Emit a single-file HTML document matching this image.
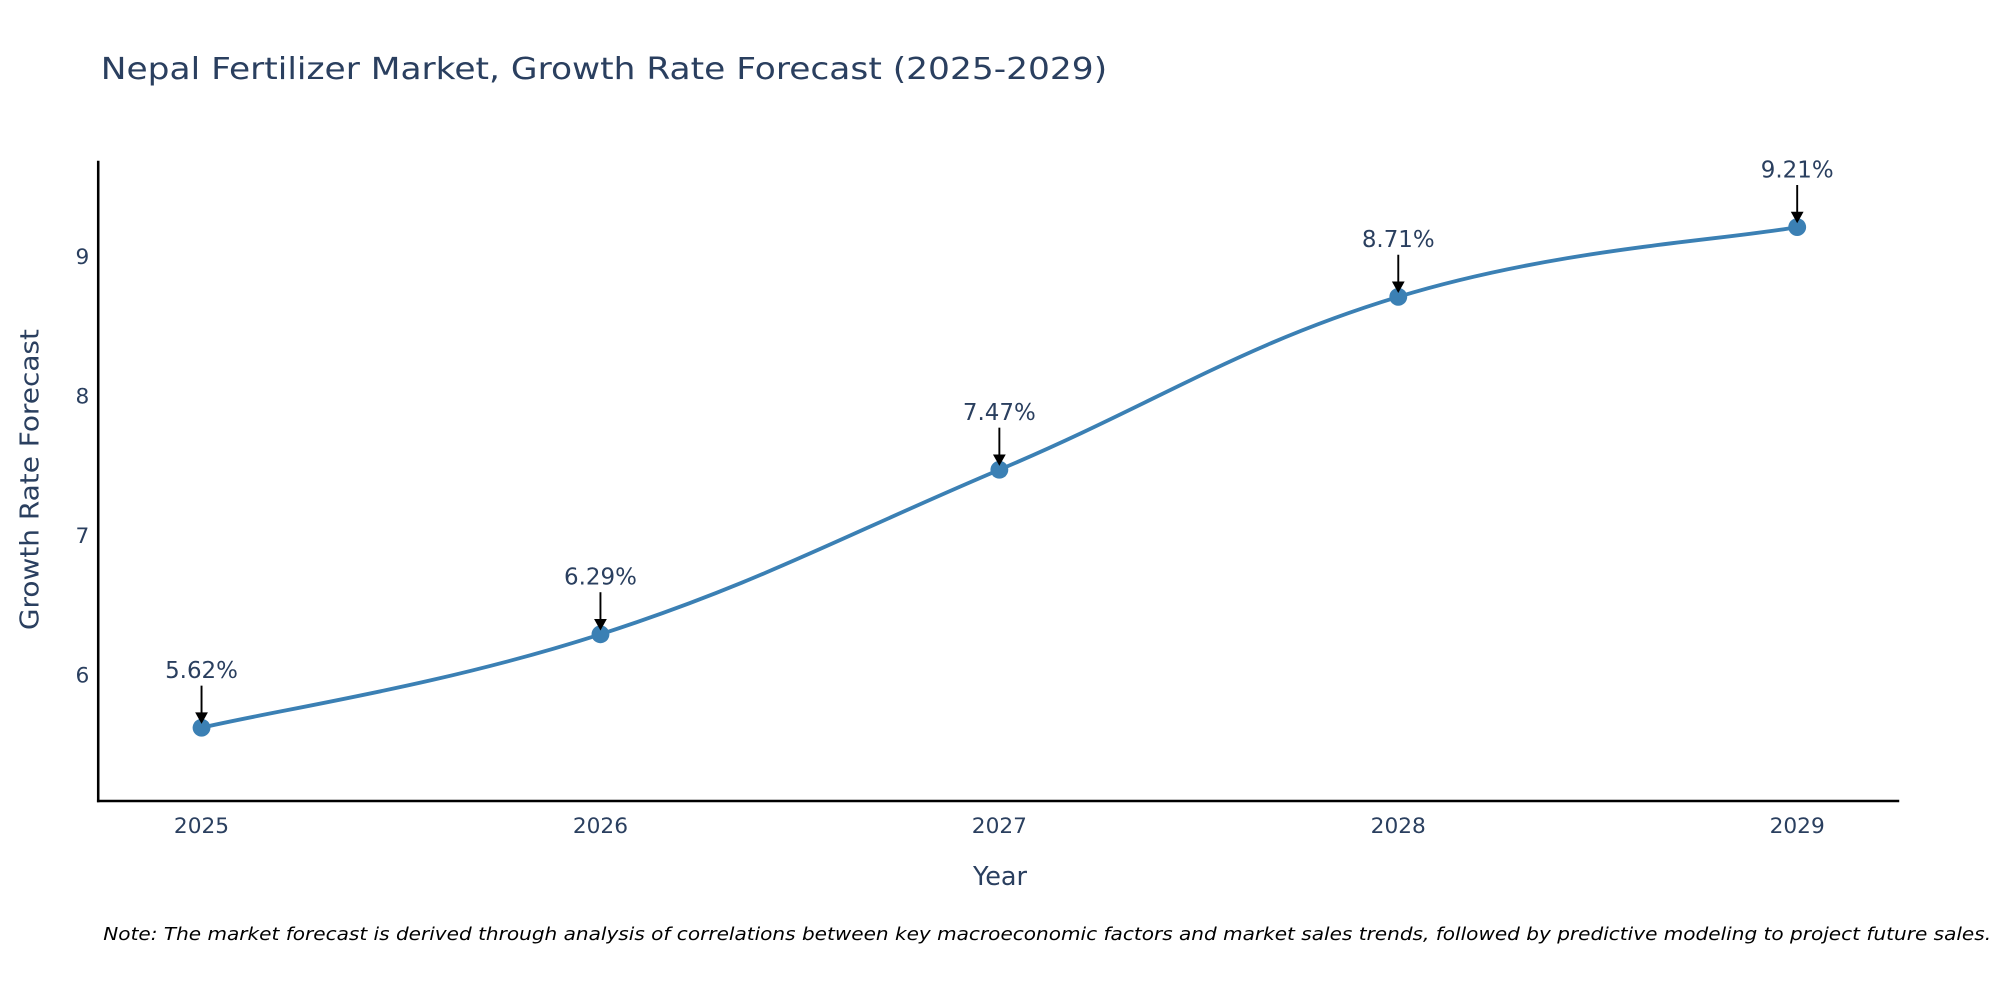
<!DOCTYPE html>
<html><head><meta charset="utf-8"><style>
html,body{margin:0;padding:0;background:#fff;}
svg{display:block;font-family:"DejaVu Sans","Liberation Sans",sans-serif;}
</style></head><body>
<svg id="chart" width="2000" height="1000" viewBox="0 0 1568 784" xmlns="http://www.w3.org/2000/svg">
<rect width="1568" height="784" fill="#fff"/>
<text x="79" y="62" font-size="24" fill="#2a3f5f" textLength="789" lengthAdjust="spacingAndGlyphs">Nepal Fertilizer Market, Growth Rate Forecast (2025-2029)</text>
<line x1="77" y1="126" x2="77" y2="629" stroke="#000" stroke-width="2"/>
<line x1="76" y1="628" x2="1489" y2="628" stroke="#000" stroke-width="2"/>
<g id="yticks"></g><g id="xticks"></g>
<text x="784" y="694" font-size="20" fill="#2a3f5f" text-anchor="middle">Year</text>
<text transform="translate(30,376) rotate(-90)" font-size="20" fill="#2a3f5f" text-anchor="middle" textLength="236" lengthAdjust="spacingAndGlyphs">Growth Rate Forecast</text>
<path id="line" fill="none" stroke="#3b80b4" stroke-width="3"/>
<g id="points"></g>
<text x="81" y="737" font-size="14" font-style="italic" fill="#000" textLength="1480" lengthAdjust="spacingAndGlyphs">Note: The market forecast is derived through analysis of correlations between key macroeconomic factors and market sales trends, followed by predictive modeling to project future sales.</text>
</svg>
<script>
const years = ["2025","2026","2027","2028","2029"];
const values = [5.62, 6.29, 7.47, 8.71, 9.21];
const labels = ["5.62%","6.29%","7.47%","8.71%","9.21%"];
const yTicks = [6,7,8,9];
const NS="http://www.w3.org/2000/svg";
function xs(i){return 158 + i*312.75;}
function ys(v){return 529 - (v-6)*109.33;}
function mk(tag,attrs,parent){const e=document.createElementNS(NS,tag);for(const k in attrs)e.setAttribute(k,attrs[k]);parent.appendChild(e);return e;}
const yt=document.getElementById('yticks');
yTicks.forEach(t=>{const e=mk('text',{x:70,y:ys(t)+6,'font-size':17,fill:'#2a3f5f','text-anchor':'end'},yt);


e.textContent=t;});
const xt=document.getElementById('xticks');
years.forEach((y,i)=>{const e=mk('text',{x:xs(i),y:653,'font-size':17,fill:'#2a3f5f','text-anchor':'middle'},xt);


e.textContent=y;});
const P=values.map((v,i)=>[xs(i),ys(v)]);
const k=1/5;
let d=`M${P[0][0]},${P[0][1]}`;
for(let i=0;i<P.length-1;i++){const p0=P[Math.max(i-1,0)],p1=P[i],p2=P[i+1],p3=P[Math.min(i+2,P.length-1)];
const c1=[p1[0]+(p2[0]-p0[0])*k,p1[1]+(p2[1]-p0[1])*k],c2=[p2[0]-(p3[0]-p1[0])*k,p2[1]-(p3[1]-p1[1])*k];
d+=` C${c1[0]},${c1[1]} ${c2[0]},${c2[1]} ${p2[0]},${p2[1]}`;}
document.getElementById('line').setAttribute('d',d);
const pg=document.getElementById('points');
P.forEach((p,i)=>{
const c=mk('circle',{cx:p[0],cy:p[1],r:7,fill:'#3b80b4'},pg);


const l=mk('line',{x1:p[0],y1:p[1]-33,x2:p[0],y2:p[1]-10,stroke:'#000','stroke-width':1.5},pg);


const a=mk('path',{d:`M${p[0]-5},${p[1]-12} L${p[0]+5},${p[1]-12} L${p[0]},${p[1]-3} Z`,fill:'#000'},pg);


const t=mk('text',{x:p[0],y:p[1]-39,'font-size':18,fill:'#2a3f5f','text-anchor':'middle'},pg);


t.textContent=labels[i];
});
</script>
</body></html>
